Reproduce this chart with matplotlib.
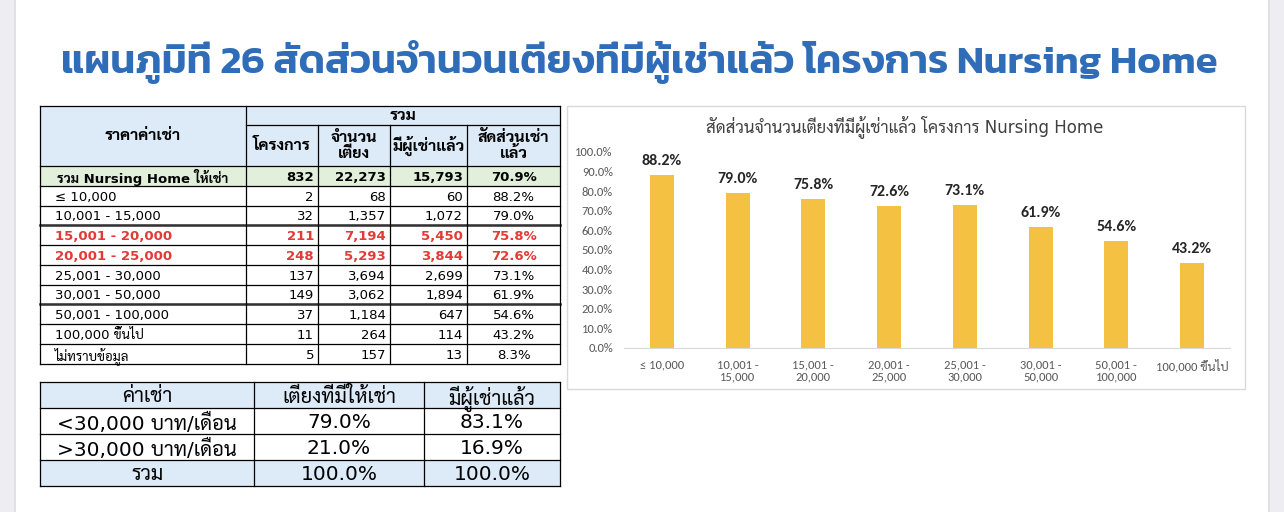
import matplotlib
matplotlib.use("Agg")
import matplotlib.pyplot as plt
from matplotlib.patches import Rectangle

# ------------------------------------------------------------------ data
price_labels = ["≤ 10,000", "10,001 - 15,000", "15,001 - 20,000", "20,001 - 25,000",
                "25,001 - 30,000", "30,001 - 50,000", "50,001 - 100,000",
                "100,000 ขึ้นไป", "ไม่ทราบข้อมูล"]
projects = [2, 32, 211, 248, 137, 149, 37, 11, 5]
beds = [68, 1357, 7194, 5293, 3694, 3062, 1184, 264, 157]
rented = [60, 1072, 5450, 3844, 2699, 1894, 647, 114, 13]
ratio = [88.2, 79.0, 75.8, 72.6, 73.1, 61.9, 54.6, 43.2, 8.3]
highlight_rows = [2, 3]

total_label = "รวม Nursing Home ให้เช่า"
total_projects = 832
total_beds = 22273
total_rented = 15793
total_ratio = 70.9

header_top = "รวม"
header_first = "ราคาค่าเช่า"
header_cols = ["โครงการ", "จำนวน\nเตียง", "มีผู้เช่าแล้ว", "สัดส่วนเช่า\nแล้ว"]

chart_title = "สัดส่วนจำนวนเตียงที่มีผู้เช่าแล้ว โครงการ Nursing Home"
chart_labels = ["≤ 10,000", "10,001 -\n15,000", "15,001 -\n20,000", "20,001 -\n25,000",
                "25,001 -\n30,000", "30,001 -\n50,000", "50,001 -\n100,000", "100,000 ขึ้นไป"]
chart_values = ratio[:8]

rent_header = ["ค่าเช่า", "เตียงที่มีให้เช่า", "มีผู้เช่าแล้ว"]
rent_groups = ["<30,000 บาท/เดือน", ">30,000 บาท/เดือน", "รวม"]
share_available = [79.0, 21.0, 100.0]
share_rented = [83.1, 16.9, 100.0]

page_title = "แผนภูมิที่ 26 สัดส่วนจำนวนเตียงที่มีผู้เช่าแล้ว โครงการ Nursing Home"

# ------------------------------------------------------------------ styles
TABLE_FONT = ["DejaVu Sans", "Sarabun"]
TITLE_FONT = ["Kanit", "Prompt", "Sarabun"]
CHART_FONT = ["Carlito", "DejaVu Sans", "Sarabun"]
BLUE_BG = "#DCEBF7"
GREEN_BG = "#E2EFDA"
RED = "#E23A35"
BAR = "#F4C142"

fig = plt.figure(figsize=(12.84, 5.12), dpi=100)
bg = fig.add_axes([0, 0, 1, 1])
bg.set_xlim(0, 1284)
bg.set_ylim(512, 0)
bg.axis("off")

# slide edges (screenshot frame)
bg.add_patch(Rectangle((0, 0), 15, 512, color="#EEEEF2", lw=0))
bg.add_patch(Rectangle((1269, 0), 15, 512, color="#EEEEF2", lw=0))
bg.plot([15, 15], [0, 512], color="#DDDDE2", lw=1.2)
bg.plot([1269, 1269], [0, 512], color="#DDDDE2", lw=1.2)

bg.text(639, 62, page_title, ha="center", va="center", color="#2F6DB8",
        fontsize=29, fontweight="semibold", family=TITLE_FONT)

# ------------------------------------------------------------------ table 1
cx = [40, 246, 318, 390, 467, 560]
y_h1, y_h2, y_tot = 106, 125, 166
rh = 19.75
y_rows = [y_tot + rh * (i + 1) for i in range(len(price_labels) + 1)]
y_end = y_rows[-1]

bg.add_patch(Rectangle((cx[0], y_h1), cx[-1] - cx[0], y_tot - y_h1, color=BLUE_BG, lw=0))
bg.add_patch(Rectangle((cx[0], y_tot), cx[-1] - cx[0], rh, color=GREEN_BG, lw=0))

lk = dict(color="black", lw=0.9)
bg.plot([cx[0], cx[-1]], [y_h1, y_h1], **lk)
bg.plot([cx[1], cx[-1]], [y_h2, y_h2], **lk)
for y in [y_tot] + y_rows:
    bg.plot([cx[0], cx[-1]], [y, y], **lk)
for y in (y_rows[2], y_rows[6]):
    bg.plot([cx[0], cx[-1]], [y, y], color="#333333", lw=1.8)
for i, x in enumerate(cx):
    y0 = y_h2 if i in (2, 3, 4) else y_h1
    bg.plot([x, x], [y0, y_end], **lk)

tk = dict(family=TABLE_FONT, fontsize=9.5, va="center_baseline")
hk = dict(family=TABLE_FONT, fontsize=11.5, va="center", ha="center", fontweight="bold")
bg.text((cx[0] + cx[1]) / 2, (y_h1 + y_tot) / 2, header_first, **hk)
bg.text((cx[1] + cx[-1]) / 2, (y_h1 + y_h2) / 2, header_top, **hk)
for j, h in enumerate(header_cols):
    bg.text((cx[j + 1] + cx[j + 2]) / 2, (y_h2 + y_tot) / 2, h, linespacing=1.05, **hk)

ym = y_tot + rh / 2
bg.text((cx[0] + cx[1]) / 2, ym, total_label, ha="center", fontweight="bold", **tk)
for j, v in enumerate([total_projects, total_beds, total_rented]):
    bg.text(cx[j + 2] - 4, ym, f"{v:,}", ha="right", fontweight="bold", **tk)
bg.text((cx[4] + cx[5]) / 2, ym, f"{total_ratio:.1f}%", ha="center", fontweight="bold", **tk)

for i, lab in enumerate(price_labels):
    ym = y_tot + rh * (i + 1.5)
    hl = i in highlight_rows
    st = dict(color=RED if hl else "black", fontweight="bold" if hl else "normal")
    bg.text(cx[0] + 15, ym, lab, ha="left", **st, **tk)
    for j, v in enumerate([projects[i], beds[i], rented[i]]):
        bg.text(cx[j + 2] - 4, ym, f"{v:,}", ha="right", **st, **tk)
    bg.text((cx[4] + cx[5]) / 2, ym, f"{ratio[i]:.1f}%", ha="center", **st, **tk)

# ------------------------------------------------------------------ table 2
sx = [40, 254, 424, 560]
sy = [382, 408, 434, 460, 486]
bg.add_patch(Rectangle((sx[0], sy[0]), sx[-1] - sx[0], sy[1] - sy[0], color=BLUE_BG, lw=0))
bg.add_patch(Rectangle((sx[0], sy[3]), sx[-1] - sx[0], sy[4] - sy[3], color=BLUE_BG, lw=0))
for y in sy:
    bg.plot([sx[0], sx[-1]], [y, y], **lk)
for x in sx:
    bg.plot([x, x], [sy[0], sy[-1]], **lk)

t2 = dict(family=TABLE_FONT, fontsize=14.5, va="center_baseline", ha="center")
for j, h in enumerate(rent_header):
    bg.text((sx[j] + sx[j + 1]) / 2, (sy[0] + sy[1]) / 2, h, **t2)
for i, g in enumerate(rent_groups):
    yc = (sy[i + 1] + sy[i + 2]) / 2
    bg.text((sx[0] + sx[1]) / 2, yc, g, **t2)
    bg.text((sx[1] + sx[2]) / 2, yc, f"{share_available[i]:.1f}%", **t2)
    bg.text((sx[2] + sx[3]) / 2, yc, f"{share_rented[i]:.1f}%", **t2)

# ------------------------------------------------------------------ chart
bg.add_patch(Rectangle((567, 106), 678, 283, facecolor="white", edgecolor="#D9D9D9", lw=1))
bg.text(905, 127, chart_title, ha="center", va="center", fontsize=12,
        color="#404040", family=TABLE_FONT)

ax = fig.add_axes([624 / 1284, (512 - 348) / 512, 606 / 1284, 196 / 512])
ax.patch.set_alpha(0)
xs = range(len(chart_values))
bars = ax.bar(xs, chart_values, width=0.32, color=BAR, zorder=2)
for b, v in zip(bars, chart_values):
    ax.annotate(f"{v:.1f}%", (b.get_x() + b.get_width() / 2, v), xytext=(0, 5),
                textcoords="offset points", ha="center", va="bottom", fontsize=11.5,
                fontweight="bold", color="#262626", family=CHART_FONT)
ax.set_xlim(-0.5, len(chart_values) - 0.5)
ax.set_ylim(0, 100)
ax.set_yticks(range(0, 101, 10))
ax.set_yticklabels([f"{t:.1f}%" for t in range(0, 101, 10)])
ax.set_xticks(list(xs))
ax.set_xticklabels(chart_labels)
ax.tick_params(length=0, labelsize=9, labelcolor="#595959", pad=8)
for lab in ax.get_xticklabels() + ax.get_yticklabels():
    lab.set_family(CHART_FONT)
for s in ("top", "right", "left"):
    ax.spines[s].set_visible(False)
ax.spines["bottom"].set_color("#D9D9D9")

fig.savefig("out.png", dpi=100)
